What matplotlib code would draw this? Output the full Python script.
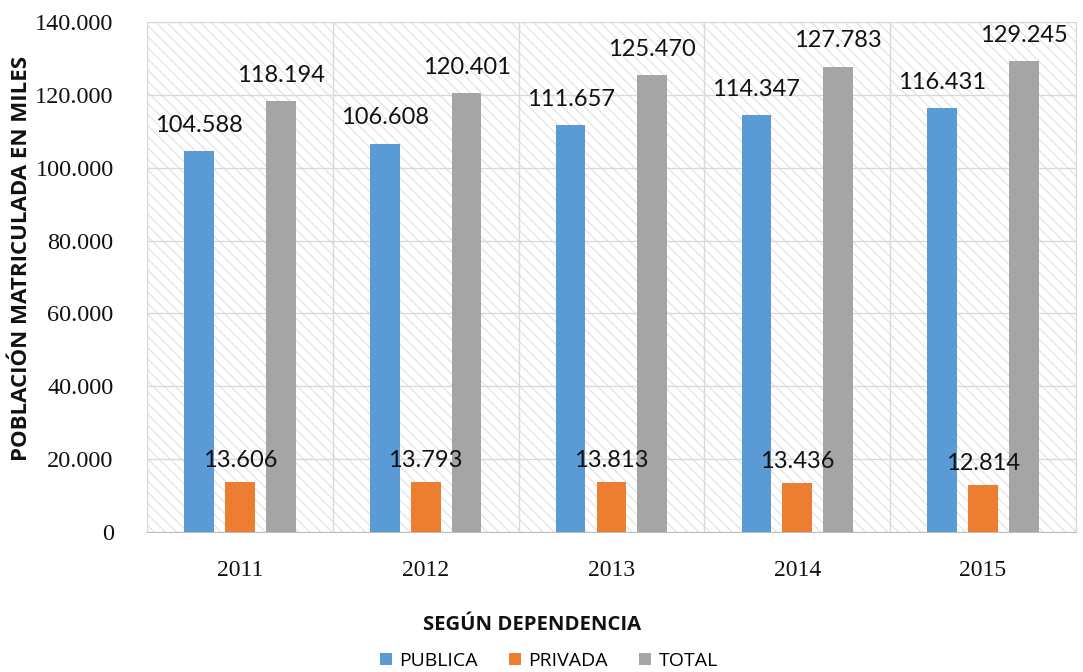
import matplotlib
matplotlib.use("Agg")
import matplotlib.pyplot as plt
import numpy as np
from matplotlib.patches import Rectangle

years = ["2011", "2012", "2013", "2014", "2015"]
publica = [104588, 106608, 111657, 114347, 116431]
privada = [13606, 13793, 13813, 13436, 12814]
total = [118194, 120401, 125470, 127783, 129245]
series_names = ["PUBLICA", "PRIVADA", "TOTAL"]
series_colors = ["#5B9BD5", "#ED7D31", "#A5A5A5"]
y_ticks = [0, 20000, 40000, 60000, 80000, 100000, 120000, 140000]


def fmt_miles(v):
    return f"{v:,.0f}".replace(",", ".")


plt.rcParams["hatch.linewidth"] = 0.7

fig = plt.figure(figsize=(10.83, 6.72), dpi=100)
ax = fig.add_axes([0.1357, 0.2083, 0.8578, 0.7589])

x = np.arange(len(years))
ax.set_xlim(-0.5, len(years) - 0.5)
ax.set_ylim(0, 140000)

# hatched background like the original
bg = Rectangle((0, 0), 1, 1, transform=ax.transAxes, facecolor="white",
               edgecolor="#dcdcdc", linewidth=0, hatch="\\\\\\", zorder=0)
ax.add_patch(bg)

grid_col = "#d9d9d9"
for t in y_ticks:
    ax.axhline(t, color=grid_col, linewidth=1.0, zorder=1)
for b in np.arange(-0.5, len(years), 1.0):
    ax.axvline(b, color=grid_col, linewidth=1.0, zorder=1)

width = 0.16
offsets = [-0.22, 0.0, 0.22]
label_pads = [11, 8, 11]
for vals, name, col, off, pad in zip([publica, privada, total], series_names,
                                     series_colors, offsets, label_pads):
    ax.bar(x + off, vals, width, color=col, label=name, zorder=3)
    for xi, v in zip(x + off, vals):
        ax.annotate(fmt_miles(v), (xi, v), xytext=(0, pad), textcoords="offset points",
                    ha="center", va="bottom", fontsize=17, family="Lato",
                    color="#111111", zorder=6)

for s in ax.spines.values():
    s.set_color(grid_col)
ax.spines["bottom"].set_color("#bfbfbf")

ax.set_xticks(x)
ax.set_xticklabels(years, family="Liberation Serif", fontsize=17)
ax.set_yticks(y_ticks)
ax.set_yticklabels([fmt_miles(t) for t in y_ticks], family="Liberation Serif", fontsize=17.5)
ax.tick_params(axis="both", length=0, colors="#111111")
ax.tick_params(axis="x", pad=20)
ax.tick_params(axis="y", pad=24)

fig.text(22 / 1083, 1 - 258 / 672, "POBLACIÓN MATRICULADA EN MILES", rotation=90,
         ha="center", va="center", fontsize=16, fontweight="bold", family="Open Sans",
         color="#111111")
fig.text(532 / 1083, 1 - 625 / 672, "SEGÚN DEPENDENCIA", ha="center", va="center",
         fontsize=14.6, fontweight="bold", family="Open Sans", color="#111111")

handles, labels = ax.get_legend_handles_labels()
fig.legend(handles, labels, loc="center", bbox_to_anchor=(549 / 1083, 1 - 661 / 672),
           ncol=3, frameon=False, prop={"family": "Open Sans", "size": 14},
           handlelength=0.6, handleheight=0.6, handletextpad=0.4, columnspacing=1.6)

fig.savefig("out.png", dpi=100)
